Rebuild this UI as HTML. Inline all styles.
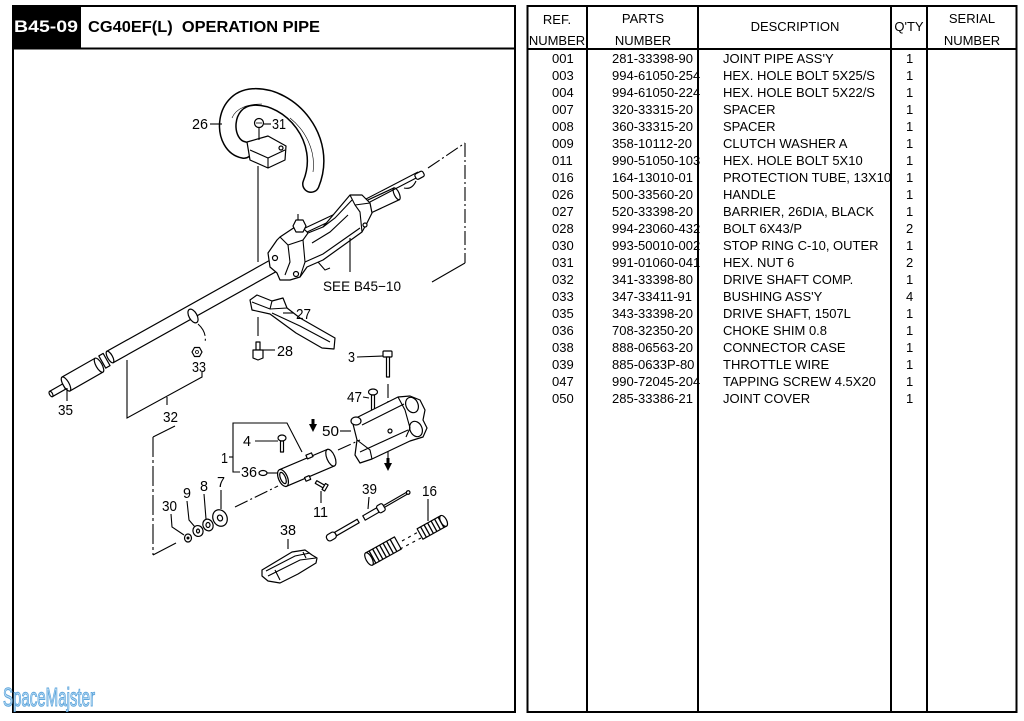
<!DOCTYPE html>
<html><head><meta charset="utf-8">
<style>
html,body{margin:0;padding:0;background:#fff;}
svg{display:block;}
text{font-family:"Liberation Sans",Arial,sans-serif;fill:#000;}
.d{fill:#fff;stroke:#000;stroke-width:1.2;stroke-linejoin:round;}
.l{fill:none;stroke:#000;stroke-width:1.1;}
.dd{fill:none;stroke:#000;stroke-width:1.1;stroke-dasharray:14 3 2 3;}
.t{font-size:13px;}
.n{font-size:15px;}
</style></head><body>
<svg width="1024" height="721" viewBox="0 0 1024 721" xmlns="http://www.w3.org/2000/svg">

<!-- LEFT PANEL -->
<rect x="13" y="6" width="502" height="706" fill="none" stroke="#000" stroke-width="2"/>
<line x1="13" y1="48.5" x2="515" y2="48.5" stroke="#000" stroke-width="2"/>
<rect x="13" y="6" width="68" height="42.5" fill="#000"/>
<text x="14" y="32" style="fill:#fff" font-size="17" font-weight="bold" textLength="64" lengthAdjust="spacingAndGlyphs">B45-09</text>
<text x="88" y="32" font-size="16" font-weight="bold" style="white-space:pre" textLength="232" lengthAdjust="spacingAndGlyphs">CG40EF(L)  OPERATION PIPE</text>

<!-- TABLE -->
<rect x="527.5" y="6" width="489" height="706" fill="none" stroke="#000" stroke-width="2"/>
<line x1="527.5" y1="49" x2="1016.5" y2="49" stroke="#000" stroke-width="2"/>
<line x1="587" y1="6" x2="587" y2="712" stroke="#000" stroke-width="2"/>
<line x1="698" y1="6" x2="698" y2="712" stroke="#000" stroke-width="2"/>
<line x1="891" y1="6" x2="891" y2="712" stroke="#000" stroke-width="2"/>
<line x1="927" y1="6" x2="927" y2="712" stroke="#000" stroke-width="2"/>

<g class="t" text-anchor="middle">
<text x="557" y="24">REF.</text>
<text x="557" y="45">NUMBER</text>
<text x="643" y="23">PARTS</text>
<text x="643" y="45">NUMBER</text>
<text x="795" y="31">DESCRIPTION</text>
<text x="909" y="31">Q'TY</text>
<text x="972" y="23">SERIAL</text>
<text x="972" y="45">NUMBER</text>
</g>

<g class="t">
<text x="552" y="63">001</text><text x="612" y="63">281-33398-90</text><text x="723" y="63">JOINT PIPE ASS'Y</text><text x="906" y="63">1</text>
<text x="552" y="80">003</text><text x="612" y="80">994-61050-254</text><text x="723" y="80">HEX. HOLE BOLT 5X25/S</text><text x="906" y="80">1</text>
<text x="552" y="97">004</text><text x="612" y="97">994-61050-224</text><text x="723" y="97">HEX. HOLE BOLT 5X22/S</text><text x="906" y="97">1</text>
<text x="552" y="114">007</text><text x="612" y="114">320-33315-20</text><text x="723" y="114">SPACER</text><text x="906" y="114">1</text>
<text x="552" y="131">008</text><text x="612" y="131">360-33315-20</text><text x="723" y="131">SPACER</text><text x="906" y="131">1</text>
<text x="552" y="148">009</text><text x="612" y="148">358-10112-20</text><text x="723" y="148">CLUTCH WASHER A</text><text x="906" y="148">1</text>
<text x="552" y="165">011</text><text x="612" y="165">990-51050-103</text><text x="723" y="165">HEX. HOLE BOLT 5X10</text><text x="906" y="165">1</text>
<text x="552" y="182">016</text><text x="612" y="182">164-13010-01</text><text x="723" y="182">PROTECTION TUBE, 13X10</text><text x="906" y="182">1</text>
<text x="552" y="199">026</text><text x="612" y="199">500-33560-20</text><text x="723" y="199">HANDLE</text><text x="906" y="199">1</text>
<text x="552" y="216">027</text><text x="612" y="216">520-33398-20</text><text x="723" y="216">BARRIER, 26DIA, BLACK</text><text x="906" y="216">1</text>
<text x="552" y="233">028</text><text x="612" y="233">994-23060-432</text><text x="723" y="233">BOLT 6X43/P</text><text x="906" y="233">2</text>
<text x="552" y="250">030</text><text x="612" y="250">993-50010-002</text><text x="723" y="250">STOP RING C-10, OUTER</text><text x="906" y="250">1</text>
<text x="552" y="267">031</text><text x="612" y="267">991-01060-041</text><text x="723" y="267">HEX. NUT 6</text><text x="906" y="267">2</text>
<text x="552" y="284">032</text><text x="612" y="284">341-33398-80</text><text x="723" y="284">DRIVE SHAFT COMP.</text><text x="906" y="284">1</text>
<text x="552" y="301">033</text><text x="612" y="301">347-33411-91</text><text x="723" y="301">BUSHING ASS'Y</text><text x="906" y="301">4</text>
<text x="552" y="318">035</text><text x="612" y="318">343-33398-20</text><text x="723" y="318">DRIVE SHAFT, 1507L</text><text x="906" y="318">1</text>
<text x="552" y="335">036</text><text x="612" y="335">708-32350-20</text><text x="723" y="335">CHOKE SHIM 0.8</text><text x="906" y="335">1</text>
<text x="552" y="352">038</text><text x="612" y="352">888-06563-20</text><text x="723" y="352">CONNECTOR CASE</text><text x="906" y="352">1</text>
<text x="552" y="369">039</text><text x="612" y="369">885-0633P-80</text><text x="723" y="369">THROTTLE WIRE</text><text x="906" y="369">1</text>
<text x="552" y="386">047</text><text x="612" y="386">990-72045-204</text><text x="723" y="386">TAPPING SCREW 4.5X20</text><text x="906" y="386">1</text>
<text x="552" y="403">050</text><text x="612" y="403">285-33386-21</text><text x="723" y="403">JOINT COVER</text><text x="906" y="403">1</text>
</g>

<!-- DIAGRAM -->
<line class="l" x1="258" y1="166" x2="258" y2="262"/>

<!-- main tube -->
<g transform="translate(110,357) rotate(-29.2)">
  <rect class="d" x="0" y="-6.5" width="187" height="13"/>
  <ellipse class="d" cx="0" cy="0" rx="2.5" ry="6.5"/>
</g>
<g transform="translate(104,361) rotate(-29.5)">
  <rect class="d" x="-2" y="-7" width="5" height="14"/>
</g>
<g transform="translate(66,384) rotate(-29.7)">
  <rect class="d" x="0" y="-8" width="38" height="16"/>
  <ellipse class="d" cx="38" cy="0" rx="3" ry="8"/>
  <ellipse class="d" cx="0" cy="0" rx="3" ry="8"/>
</g>
<g transform="translate(51,394) rotate(-29.7)">
  <rect class="d" x="0" y="-3" width="15" height="6"/>
  <ellipse class="d" cx="0" cy="0" rx="1.5" ry="3"/>
</g>
<line class="l" x1="67" y1="388" x2="67" y2="401"/>
<text class="n" x="58" y="415" textLength="15" lengthAdjust="spacingAndGlyphs">35</text>

<g transform="translate(193,316) rotate(-29.2)">
  <ellipse class="d" cx="0" cy="0" rx="4" ry="7.5"/>
</g>
<path class="dd" d="M198 324 Q207 332 205 343"/>
<polygon class="d" points="192,352 194.5,347.5 199.5,347.5 202,352 199.5,356.5 194.5,356.5"/>
<circle cx="197" cy="352" r="1.5" fill="none" stroke="#000" stroke-width="0.8"/>
<text class="n" x="192" y="372" textLength="14" lengthAdjust="spacingAndGlyphs">33</text>

<polyline class="l" points="127,360 127,418 202,377 202,372"/>
<line class="l" x1="167" y1="397" x2="167" y2="405"/>
<text class="n" x="163" y="422" textLength="15" lengthAdjust="spacingAndGlyphs">32</text>
<polyline class="l" points="175,426 153,437"/>
<line x1="153" y1="437" x2="153" y2="555" stroke="#000" stroke-width="1.1" stroke-dasharray="20 3 3 3"/>
<line class="l" x1="153" y1="555" x2="176" y2="543"/>

<!-- handle 26 -->
<path d="M244 150 C221 146, 221 99, 253 97 C291 95, 329 140, 311 184" stroke="#000" stroke-width="18" fill="none" stroke-linecap="round"/>
<path d="M244 150 C221 146, 221 99, 253 97 C291 95, 329 140, 311 184" stroke="#fff" stroke-width="15" fill="none" stroke-linecap="round"/>
<path d="M232 118 C236 108, 248 104, 262 104" fill="none" stroke="#000" stroke-width="0.6"/>
<path d="M290 118 C305 130, 316 150, 313 172" fill="none" stroke="#000" stroke-width="0.6"/>
<polygon class="d" points="247,142 268,136 286,146 285,160 268,168 250,160"/>
<polyline class="l" points="250,150 268,158 285,150"/>
<line class="l" x1="268" y1="158" x2="268" y2="168"/>
<circle cx="281" cy="148" r="2" class="d"/>
<line class="l" x1="259" y1="128" x2="259" y2="140"/>
<circle class="d" cx="259" cy="123" r="4.5"/>
<line x1="256" y1="123" x2="262" y2="123" stroke="#000" stroke-width="0.8"/>
<line class="l" x1="264" y1="124" x2="271" y2="124"/>
<text class="n" x="272" y="129" textLength="14" lengthAdjust="spacingAndGlyphs">31</text>
<line class="l" x1="210" y1="124" x2="222" y2="124"/>
<text class="n" x="192" y="129" textLength="16" lengthAdjust="spacingAndGlyphs">26</text>

<g transform="translate(364,209) rotate(-25)">
  <rect class="d" x="0" y="-6.5" width="36" height="13"/>
  <ellipse class="d" cx="36" cy="0" rx="2.5" ry="6.5"/>
</g>
<polyline class="l" points="303,229 352,206 366,199 418,172"/>
<polyline class="l" points="305,233 354,210 368,203 420,176"/>
<g transform="translate(420,175) rotate(-28)">
  <rect class="d" x="-5" y="-3" width="9" height="6" rx="2"/>
</g>
<path class="l" d="M404 188 Q412 190 416 181"/>

<!-- throttle housing -->
<polygon class="d" points="268,253 277,240 280,237 295,227 303,228 308,233 323,227 350,195 362,195 370,203 372,213 367,223 362,232 323,260 307,267 300,277 290,280 280,280 277,273 270,267"/>
<polygon class="d" points="293,226 296,220 303,220 306,226 303,232 296,232"/>
<line class="l" x1="298" y1="220" x2="298" y2="214"/>
<polyline class="l" points="280,237 288,245 290,262 285,275"/>
<polyline class="l" points="288,245 303,240 308,233"/>
<polyline class="l" points="303,240 305,262 300,277"/>
<polyline class="l" points="305,262 323,254 360,228"/>
<polyline class="l" points="323,227 335,218 352,200"/>
<polyline class="l" points="350,195 355,205 360,212 362,232"/>
<line class="l" x1="355" y1="205" x2="370" y2="203"/>
<polyline class="l" points="312,243 330,232 348,215"/>
<circle class="d" cx="275" cy="258" r="2.5"/>
<circle class="d" cx="296" cy="274" r="2.5"/>
<circle class="d" cx="365" cy="225" r="2"/>
<path class="l" d="M318 262 L325 270 L330 268"/>
<line class="l" x1="350" y1="238" x2="350" y2="272"/>
<text x="323" y="291" font-size="14" textLength="78" lengthAdjust="spacingAndGlyphs">SEE B45−10</text>

<line class="dd" x1="428" y1="168" x2="465" y2="143"/>
<line class="dd" x1="465" y1="143" x2="465" y2="263"/>
<line class="l" x1="465" y1="263" x2="432" y2="282"/>

<!-- barrier 27 -->
<polygon class="d" points="250,300 257,295 272,301 283,298 287,308 300,318 335,338 334,349 322,348 296,333 270,314 252,310"/>
<polyline class="l" points="252,302 270,309 287,308"/>
<polyline class="l" points="272,313 300,326 330,342"/>
<line class="l" x1="272" y1="301" x2="270" y2="309"/>
<line class="l" x1="283" y1="313" x2="294" y2="313"/>
<text class="n" x="296" y="319" textLength="15" lengthAdjust="spacingAndGlyphs">27</text>

<line class="l" x1="258" y1="317" x2="258" y2="336"/>
<rect class="d" x="256" y="342" width="4" height="8"/>
<polygon class="d" points="253,350 263,350 263,358 258,360 253,358"/>
<line class="l" x1="263" y1="350" x2="275" y2="350"/>
<text class="n" x="277" y="356" textLength="16" lengthAdjust="spacingAndGlyphs">28</text>

<text class="n" x="348" y="362" textLength="7" lengthAdjust="spacingAndGlyphs">3</text>
<line class="l" x1="357" y1="357" x2="383" y2="356"/>
<rect class="d" x="383" y="351" width="9" height="6" rx="1"/>
<rect class="d" x="386.5" y="357" width="3" height="20"/>
<line class="dd" x1="388" y1="384" x2="388" y2="460"/>
<polygon points="384,463 392,463 388,471" fill="#000"/>
<rect x="386.5" y="458" width="3" height="6" fill="#000"/>

<text class="n" x="347" y="402" textLength="15" lengthAdjust="spacingAndGlyphs">47</text>
<line class="l" x1="363" y1="397" x2="369" y2="398"/>
<ellipse class="d" cx="373" cy="392" rx="4.5" ry="3"/>
<rect class="d" x="371.5" y="395" width="3" height="15"/>

<!-- joint cover 50 -->
<polygon class="d" points="352,420 398,397 410,396 420,400 425,410 423,420 427,428 423,437 410,441 372,459 360,463 355,455 357,440"/>
<ellipse class="d" cx="412" cy="405" rx="6" ry="8" transform="rotate(-25 412 405)"/>
<ellipse class="d" cx="416" cy="429" rx="6" ry="8" transform="rotate(-25 416 429)"/>
<polyline class="l" points="362,425 404,404"/>
<polyline class="l" points="360,452 408,430"/>
<polyline class="l" points="398,397 405,410 410,428 406,437"/>
<polyline class="l" points="357,440 370,450 372,459"/>
<ellipse class="d" cx="356" cy="421" rx="5" ry="4"/>
<circle class="d" cx="390" cy="431" r="2"/>
<text class="n" x="322" y="436" font-size="17" textLength="17" lengthAdjust="spacingAndGlyphs">50</text>
<line class="l" x1="340" y1="431" x2="351" y2="431"/>

<polyline class="l" points="302,452 287,423 233,423 233,472 240,472"/>
<line class="l" x1="229" y1="457" x2="233" y2="457"/>
<text class="n" x="221" y="463" textLength="7" lengthAdjust="spacingAndGlyphs">1</text>
<text class="n" x="243" y="446" textLength="8" lengthAdjust="spacingAndGlyphs">4</text>
<line class="l" x1="255" y1="441" x2="278" y2="441"/>
<ellipse class="d" cx="282" cy="438" rx="4" ry="3"/>
<rect class="d" x="280.5" y="441" width="3" height="11"/>
<text class="n" x="241" y="477" textLength="16" lengthAdjust="spacingAndGlyphs">36</text>
<ellipse class="d" cx="263" cy="473" rx="4" ry="2.5"/>
<line class="l" x1="267" y1="473" x2="280" y2="473"/>

<g transform="translate(283,478) rotate(-23)">
  <rect class="d" x="0" y="-9" width="52" height="18"/>
  <ellipse class="d" cx="52" cy="0" rx="4" ry="9"/>
  <ellipse class="d" cx="0" cy="0" rx="4.5" ry="9"/>
  <ellipse class="d" cx="0" cy="0" rx="2.5" ry="6"/>
  <rect class="d" x="30" y="-12" width="6" height="4"/>
  <rect class="d" x="20" y="8" width="5" height="4"/>
</g>
<polygon points="309,424 317,424 313,432" fill="#000"/>
<rect x="311.5" y="419" width="3" height="6" fill="#000"/>

<g transform="translate(316,482) rotate(30)">
  <rect class="d" x="0" y="-1.5" width="10" height="3"/>
  <rect class="d" x="9" y="-3.5" width="3" height="7"/>
</g>
<line class="l" x1="321" y1="491" x2="321" y2="503"/>
<text class="n" x="313" y="517" textLength="15" lengthAdjust="spacingAndGlyphs">11</text>

<line class="dd" x1="235" y1="507" x2="278" y2="486"/>
<line class="dd" x1="338" y1="450" x2="360" y2="440"/>

<ellipse class="d" cx="220" cy="518" rx="7" ry="8.5" transform="rotate(-25 220 518)"/>
<ellipse class="d" cx="220" cy="518" rx="2.5" ry="3" transform="rotate(-25 220 518)"/>
<ellipse class="d" cx="208" cy="525" rx="5" ry="6" transform="rotate(-25 208 525)"/>
<ellipse class="d" cx="208" cy="525" rx="2" ry="2.5"/>
<ellipse class="d" cx="198" cy="531" rx="5" ry="5.5" transform="rotate(-25 198 531)"/>
<ellipse class="d" cx="198" cy="531" rx="1.5" ry="2"/>
<ellipse class="d" cx="188" cy="538" rx="3.5" ry="4"/>
<circle cx="188" cy="538" r="1.5" fill="#000"/>
<text class="n" x="217" y="487" textLength="8" lengthAdjust="spacingAndGlyphs">7</text>
<line class="l" x1="221" y1="490" x2="221" y2="509"/>
<text class="n" x="200" y="491" textLength="8" lengthAdjust="spacingAndGlyphs">8</text>
<line class="l" x1="204" y1="494" x2="206" y2="519"/>
<text class="n" x="183" y="498" textLength="8" lengthAdjust="spacingAndGlyphs">9</text>
<polyline class="l" points="187,501 189,520 195,527"/>
<text class="n" x="162" y="511" textLength="15" lengthAdjust="spacingAndGlyphs">30</text>
<polyline class="l" points="171,514 172,527 184,535"/>

<text class="n" x="362" y="494" textLength="15" lengthAdjust="spacingAndGlyphs">39</text>
<line class="l" x1="369" y1="497" x2="368" y2="509"/>
<g transform="translate(327,539) rotate(-30)">
  <rect class="d" x="0" y="-3.5" width="10" height="7" rx="3"/>
  <rect class="d" x="10" y="-2" width="26" height="4"/>
</g>
<g transform="translate(364,518) rotate(-30)">
  <rect class="d" x="0" y="-2.5" width="16" height="5"/>
  <rect class="d" x="16" y="-4" width="7" height="8" rx="2"/>
  <line class="l" x1="23" y1="-1" x2="50" y2="-1"/>
  <line class="l" x1="23" y1="1" x2="50" y2="1"/>
  <circle class="d" cx="51" cy="0" r="1.8"/>
</g>

<text class="n" x="422" y="496" textLength="15" lengthAdjust="spacingAndGlyphs">16</text>
<line class="l" x1="428" y1="499" x2="428" y2="521"/>
<g transform="translate(420,534) rotate(-29)">
  <rect class="d" x="0" y="-6" width="27" height="12"/>
  <ellipse class="d" cx="27" cy="0" rx="3" ry="6"/>
  <g stroke="#000" stroke-width="1.3">
    <line x1="4" y1="-6" x2="4" y2="6"/><line x1="8" y1="-6" x2="8" y2="6"/><line x1="12" y1="-6" x2="12" y2="6"/><line x1="16" y1="-6" x2="16" y2="6"/><line x1="20" y1="-6" x2="20" y2="6"/><line x1="24" y1="-6" x2="24" y2="6"/>
  </g>
</g>
<g transform="translate(369,559) rotate(-29)">
  <rect class="d" x="0" y="-7" width="33" height="14"/>
  <ellipse class="d" cx="0" cy="0" rx="3" ry="7"/>
  <g stroke="#000" stroke-width="1.3">
    <line x1="4" y1="-7" x2="4" y2="7"/><line x1="8" y1="-7" x2="8" y2="7"/><line x1="12" y1="-7" x2="12" y2="7"/><line x1="16" y1="-7" x2="16" y2="7"/><line x1="20" y1="-7" x2="20" y2="7"/><line x1="24" y1="-7" x2="24" y2="7"/><line x1="28" y1="-7" x2="28" y2="7"/>
  </g>
</g>
<line x1="402" y1="541" x2="420" y2="531" stroke="#000" stroke-width="1.1" stroke-dasharray="3 4"/>
<line x1="400" y1="549" x2="421" y2="538" stroke="#000" stroke-width="1.1" stroke-dasharray="3 4"/>

<text class="n" x="280" y="535" textLength="16" lengthAdjust="spacingAndGlyphs">38</text>
<line class="l" x1="288" y1="539" x2="288" y2="549"/>
<polygon class="d" points="262,570 292,552 305,550 312,555 317,558 316,563 298,574 280,583 268,581 262,576"/>
<polyline class="l" points="266,571 295,556 310,553"/>
<polyline class="l" points="268,576 300,560 316,558"/>
<polyline class="l" points="275,570 280,580"/>
<polyline class="l" points="303,552 306,558"/>

<!-- logo -->
<text x="3" y="706" font-size="26" textLength="92" lengthAdjust="spacingAndGlyphs" style="fill:#c4e1f6;stroke:#5fa6dc;stroke-width:1.1">SpaceMajster</text>
</svg>
</body></html>
